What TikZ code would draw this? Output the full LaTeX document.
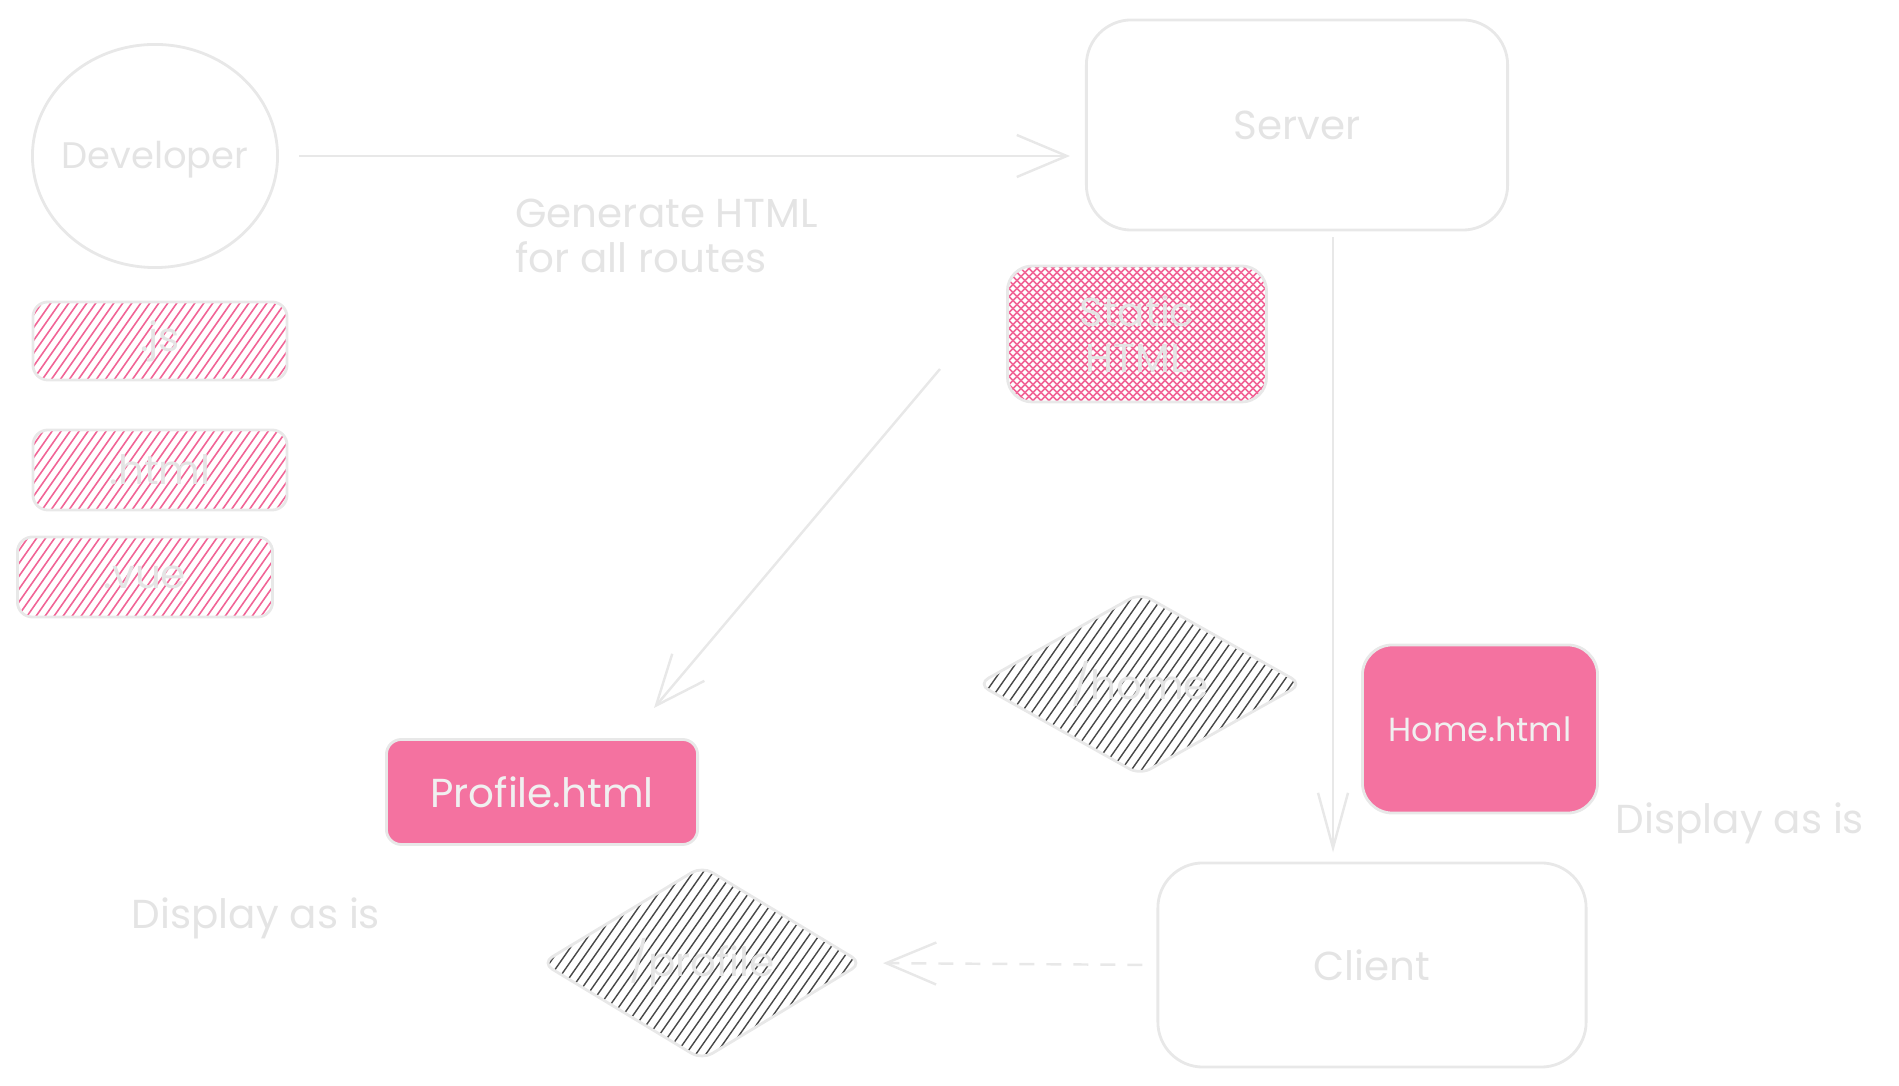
\documentclass[tikz,border=0pt]{standalone}
\usepackage{fontspec}
\setmainfont{Poppins}
\usetikzlibrary{shapes.geometric,arrows.meta,calc}

\definecolor{cGrey}{RGB}{232,232,232}
\definecolor{cText}{RGB}{228,228,228}
\definecolor{cRose}{RGB}{244,114,160}
\definecolor{cRoseLine}{RGB}{241,100,150}
\definecolor{cInk}{RGB}{72,72,72}

\tikzset{
  outline/.style={draw=cGrey, line width=0.8pt},
  panel/.style={outline, rectangle, rounded corners=#1, inner sep=0pt},
  rosestripes/.style={path picture={
      \foreach \i in {-26,...,40}
        \draw[cRoseLine, line width=0.45pt]
          ([xshift=\i*0.09cm]path picture bounding box.south west) -- ++(1.4cm,2cm);
  }},
  inkstripes/.style={path picture={
      \foreach \i in {-22,...,36}
        \draw[cInk, line width=0.4pt]
          ([xshift=\i*0.1cm]path picture bounding box.south west) -- ++(1.4cm,2cm);
  }},
  crossstripes/.style={path picture={
      \foreach \i in {-25,...,50}{
        \draw[cRoseLine, line width=0.45pt]
          ([xshift=\i*0.08cm]path picture bounding box.south west) -- ++(2cm,2cm);
        \draw[cRoseLine, line width=0.45pt]
          ([xshift=-\i*0.08cm]path picture bounding box.south east) -- ++(-2cm,2cm);
      }
  }},
  rosecard/.style={panel=#1, fill=cRose, text=white!94!black},
  route/.style={outline, diamond, inner sep=0pt, rounded corners=0.12cm, inkstripes},
  link/.style={draw=cGrey, line width=0.7pt, -{Straight Barb[length=0.5cm,width=0.42cm]}},
  caption/.style={text=cText},
}

\begin{document}
\begin{tikzpicture}[x=0.01cm, y=-0.01cm,
  every node/.style={font=\fontsize{11.5}{13}\selectfont, text=cText}]
\useasboundingbox (0,0) rectangle (1899,1086);

% actors
\node[outline, ellipse, inner sep=0pt, minimum width=2.45cm, minimum height=2.23cm,
      label={[text=cText, font=\fontsize{10.5}{12}\selectfont, yshift=-0.04cm]center:Developer}] (dev) at (155,156) {};
\node[panel=0.45cm, minimum width=4.21cm, minimum height=2.10cm] (srv) at (1297,125) {Server};
\node[panel=0.45cm, minimum width=4.28cm, minimum height=2.04cm] (cli) at (1372,965) {Client};

% source files
\node[panel=0.15cm, rosestripes, minimum width=2.54cm, minimum height=0.78cm] (js) at (160,341) {.js};
\node[panel=0.15cm, rosestripes, minimum width=2.54cm, minimum height=0.80cm] (html) at (160,470) {.html};
\node[panel=0.15cm, rosestripes, minimum width=2.55cm, minimum height=0.80cm] (vue) at (145,577) {.vue};

% build output
\node[panel=0.25cm, crossstripes, align=center, minimum width=2.59cm, minimum height=1.36cm] (stat) at (1137,334) {Static\\HTML};

% routes
\node[route, minimum width=3.25cm, minimum height=1.77cm] (homed) at (1140,684) {/home};
\node[route, minimum width=3.21cm, minimum height=1.77cm] (profd) at (702,963) {/profile};

% generated pages
\node[rosecard=0.15cm, minimum width=3.11cm, minimum height=1.05cm] (profh) at (542,792) {Profile.html};
\node[rosecard=0.3cm, minimum width=2.35cm, minimum height=1.68cm,
      font=\fontsize{9.5}{11}\selectfont] (homeh) at (1480,729) {Home.html};

% captions
\node[caption, anchor=west, align=left] (gen) at (503,236) {Generate HTML\\for all routes};
\node[caption] (disp1) at (256,918) {Display as is};
\node[caption] (disp2) at (1740,823) {Display as is};

% connectors
\draw[link, shorten <=0.2cm, shorten >=0.15cm] (dev.east) -- (dev.east -| srv.west);
\draw[link, -{Straight Barb[length=0.55cm,width=0.3cm]}, shorten <=0.06cm, shorten >=0.09cm]
  ([xshift=0.36cm]srv.south) -- ([xshift=0.36cm]srv.south |- cli.north);
\coordinate (d1) at (940,369);
\coordinate (d2) at (654,708);
\draw[link] (d1) -- (d2);
\draw[link, dash pattern=on 0.15cm off 0.12cm, shorten <=0.14cm, shorten >=0.19cm] (cli.west) -- (profd.east);
\end{tikzpicture}
\end{document}
